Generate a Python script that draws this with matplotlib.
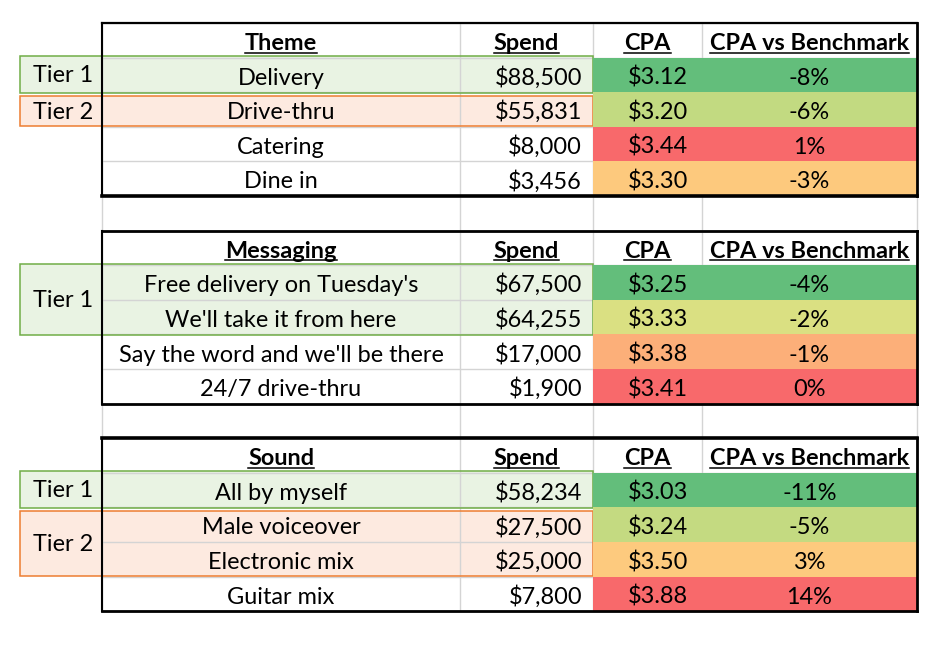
import matplotlib
matplotlib.use("Agg")
import matplotlib.pyplot as plt
import numpy as np
from matplotlib.colors import LinearSegmentedColormap, TwoSlopeNorm
from matplotlib.patches import Rectangle

plt.rcParams['font.family'] = ['Lato', 'DejaVu Sans']

# ---------------- data ----------------
col_headers = ["Spend", "CPA", "CPA vs Benchmark"]

theme_title = "Theme"
theme_names = ["Delivery", "Drive-thru", "Catering", "Dine in"]
theme_spend = [88500, 55831, 8000, 3456]
theme_cpa = [3.12, 3.20, 3.44, 3.30]
theme_vs = [-8, -6, 1, -3]
theme_tiers = [("Tier 1", 0, 0, "green"), ("Tier 2", 1, 1, "orange")]

msg_title = "Messaging"
msg_names = ["Free delivery on Tuesday's", "We'll take it from here",
             "Say the word and we'll be there", "24/7 drive-thru"]
msg_spend = [67500, 64255, 17000, 1900]
msg_cpa = [3.25, 3.33, 3.38, 3.41]
msg_vs = [-4, -2, -1, 0]
msg_tiers = [("Tier 1", 0, 1, "green")]

sound_title = "Sound"
sound_names = ["All by myself", "Male voiceover", "Electronic mix", "Guitar mix"]
sound_spend = [58234, 27500, 25000, 7800]
sound_cpa = [3.03, 3.24, 3.50, 3.88]
sound_vs = [-11, -5, 3, 14]
sound_tiers = [("Tier 1", 0, 0, "green"), ("Tier 2", 1, 2, "orange")]

tables = [
    (theme_title, theme_names, theme_spend, theme_cpa, theme_vs, theme_tiers),
    (msg_title, msg_names, msg_spend, msg_cpa, msg_vs, msg_tiers),
    (sound_title, sound_names, sound_spend, sound_cpa, sound_vs, sound_tiers),
]

# ---------------- layout / style ----------------
W, H = 944, 647
X_EDGES = [102, 460, 593, 702, 917]
TOP = 23
ROW_H = 34.6
TIER_X0 = 20
GRID = "#d4d4d4"
FS = 16.9
tier_style = {
    "green": dict(fc="#e9f3e3", ec="#70ad47"),
    "orange": dict(fc="#fdeae0", ec="#ed7d31"),
}
border_w = [(1.6, 2.6), (2.0, 2.0), (2.6, 2.0)]  # (top, bottom) in pt

cmap = LinearSegmentedColormap.from_list("excel3", ["#63be7b", "#ffeb84", "#f8696b"])

fig = plt.figure(figsize=(W / 100, H / 100), dpi=100)
ax = fig.add_axes([0, 0, 1, 1])
ax.set_xlim(0, W)
ax.set_ylim(H, 0)
ax.axis("off")

n_rows_total = 17
y_last = TOP + n_rows_total * ROW_H

# gray gridlines (vertical)
for x in X_EDGES:
    ax.plot([x, x], [TOP, y_last], color=GRID, lw=1.0, zorder=2)
# gray gridlines (horizontal)
for i in range(n_rows_total + 1):
    y = TOP + i * ROW_H
    ax.plot([X_EDGES[0], X_EDGES[-1]], [y, y], color=GRID, lw=1.0, zorder=2)

headers_for_underline = []

for t, (title, names, spend, cpa, vs, tiers) in enumerate(tables):
    t_top = TOP + t * 6 * ROW_H
    t_bot = t_top + 5 * ROW_H
    # tier boxes
    for k, (label, r0, r1, kind) in enumerate(tiers):
        if k == 0:
            y0 = t_top + (r0 + 1) * ROW_H - 1.7
            y1 = t_top + (r1 + 2) * ROW_H + 0.5
        else:
            y0 = t_top + (r0 + 1) * ROW_H + 4.0
            y1 = t_top + (r1 + 2) * ROW_H - 0.7
        st = tier_style[kind]
        ax.add_patch(Rectangle((TIER_X0, y0), X_EDGES[2] - TIER_X0, y1 - y0,
                               facecolor=st["fc"], edgecolor="none", zorder=1))
        ax.add_patch(Rectangle((TIER_X0, y0), X_EDGES[2] - TIER_X0, y1 - y0,
                               facecolor="none", edgecolor=st["ec"], lw=1.1, zorder=3))
        ax.text((TIER_X0 + X_EDGES[0]) / 2 + 2, (y0 + y1) / 2 + 1, label,
                ha="center", va="center", fontsize=FS, color="black", zorder=6)
    # conditional color cells
    norm = TwoSlopeNorm(vmin=min(cpa), vcenter=float(np.percentile(cpa, 50)), vmax=max(cpa))
    for i, v in enumerate(cpa):
        y0 = t_top + (i + 1) * ROW_H
        ax.add_patch(Rectangle((X_EDGES[2], y0), X_EDGES[4] - X_EDGES[2], ROW_H,
                               facecolor=cmap(norm(v)), edgecolor="none", zorder=4))
    # headers
    hb = t_top + ROW_H - 7.6
    hdr = [title] + col_headers
    for j, h in enumerate(hdr):
        xc = (X_EDGES[j] + X_EDGES[j + 1]) / 2
        tx = ax.text(xc, hb, h, ha="center", va="baseline", fontsize=FS,
                     fontweight="bold", color="black", zorder=6)
        headers_for_underline.append((tx, hb))
    # rows
    for i in range(4):
        rb = t_top + (i + 2) * ROW_H - 7.5
        ax.text((X_EDGES[0] + X_EDGES[1]) / 2, rb, names[i], ha="center",
                va="baseline", fontsize=FS, zorder=6)
        ax.text(X_EDGES[2] - 11, rb, f"${spend[i]:,}", ha="right",
                va="baseline", fontsize=FS, zorder=6)
        ax.text(X_EDGES[3] - 14, rb, f"${cpa[i]:.2f}", ha="right",
                va="baseline", fontsize=FS, zorder=6)
        ax.text((X_EDGES[3] + X_EDGES[4]) / 2, rb, f"{vs[i]}%", ha="center",
                va="baseline", fontsize=FS, zorder=6)
    # black border
    tw, bw = border_w[t]
    ax.plot([X_EDGES[0], X_EDGES[-1]], [t_top, t_top], color="black", lw=tw,
            zorder=5, solid_capstyle="projecting")
    ax.plot([X_EDGES[0], X_EDGES[-1]], [t_bot, t_bot], color="black", lw=bw,
            zorder=5, solid_capstyle="projecting")
    ax.plot([X_EDGES[0], X_EDGES[0]], [t_top, t_bot], color="black", lw=1.5, zorder=5)
    ax.plot([X_EDGES[-1], X_EDGES[-1]], [t_top, t_bot], color="black", lw=2.0, zorder=5)

# underline header texts
fig.canvas.draw()
renderer = fig.canvas.get_renderer()
inv = ax.transData.inverted()
for tx, base in headers_for_underline:
    bb = tx.get_window_extent(renderer)
    (x0, _), (x1, _) = inv.transform([(bb.x0, bb.y0), (bb.x1, bb.y1)])
    ax.plot([x0, x1], [base + 2.6, base + 2.6], color="black", lw=1.1, zorder=6)

fig.savefig("out.png", dpi=100)
